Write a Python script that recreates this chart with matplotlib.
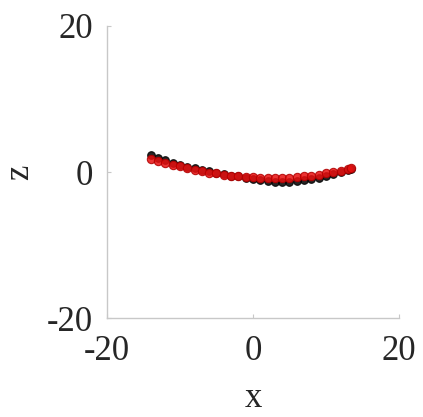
import matplotlib.pyplot as plt

# Profile points in the x-z plane
x_black = [-14, -13, -12, -11, -10, -9, -8, -7, -6, -5, -4, -3, -2, -1, 0,
           1, 2, 3, 4, 5, 6, 7, 8, 9, 10, 11, 12, 13, 13.5]
z_black = [2.3, 1.9, 1.6, 1.3, 1.0, 0.7, 0.5, 0.3, 0.1, -0.1, -0.3, -0.5, -0.6, -0.8, -1.0,
           -1.1, -1.2, -1.3, -1.3, -1.3, -1.2, -1.1, -1.0, -0.8, -0.6, -0.3, 0.0, 0.3, 0.4]

x_red = [-14, -13, -12, -11, -10, -9, -8, -7, -6, -5, -4, -3, -2, -1, 0,
         1, 2, 3, 4, 5, 6, 7, 8, 9, 10, 11, 12, 13, 13.5]
z_red = [1.8, 1.5, 1.3, 1.0, 0.8, 0.5, 0.3, 0.1, -0.1, -0.2, -0.4, -0.5, -0.6, -0.7, -0.7,
         -0.8, -0.8, -0.8, -0.8, -0.8, -0.7, -0.6, -0.5, -0.4, -0.2, 0.0, 0.2, 0.4, 0.5]

plt.rcParams['font.family'] = 'Liberation Serif'
plt.rcParams['axes.unicode_minus'] = False

fig = plt.figure(figsize=(4.23, 4.17), dpi=100)
ax = fig.add_axes([0.253, 0.237, 0.69, 0.701])

ax.plot(x_black, z_black, 'o', color='black', markersize=5.5, markeredgewidth=0.8,
        alpha=0.85)
ax.plot(x_red, z_red, 'o', color='#e81010', markersize=6, markeredgecolor='#b00000',
        markeredgewidth=0.8, alpha=0.85)

ax.set_xlim(-20, 20)
ax.set_ylim(-20, 20)
ax.set_xticks([-20, 0, 20])
ax.set_yticks([-20, 0, 20])

for side in ['top', 'right']:
    ax.spines[side].set_visible(False)
for side in ['left', 'bottom']:
    ax.spines[side].set_color('#c8c8c8')
    ax.spines[side].set_linewidth(1.0)

ax.tick_params(direction='in', length=3, color='#c8c8c8', labelsize=25,
               labelcolor='#262626')
ax.tick_params(axis='x', pad=12)
ax.tick_params(axis='y', pad=10)
ax.set_xlabel('x', fontsize=25, color='#262626', labelpad=10)
ax.set_ylabel('z', fontsize=25, color='#262626', labelpad=8)

fig.savefig('out.png', dpi=100)
